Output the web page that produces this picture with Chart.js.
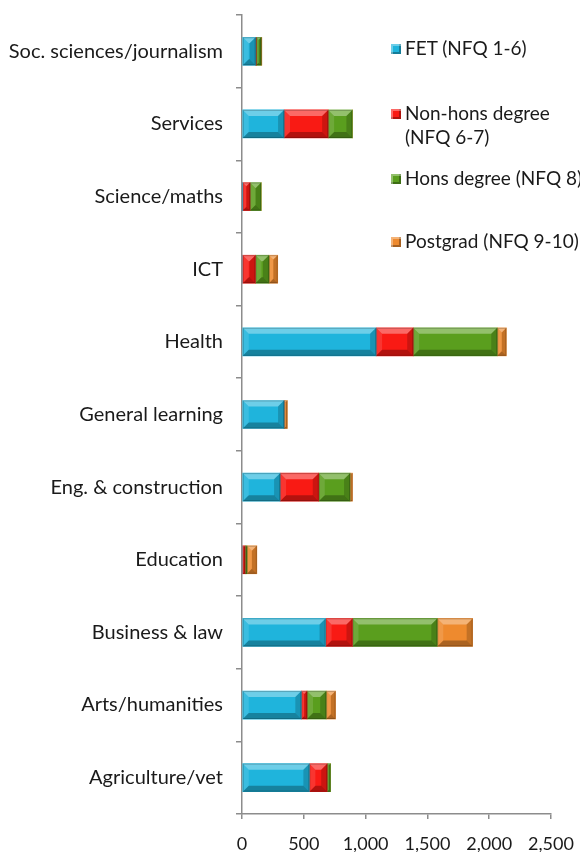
<!DOCTYPE html>
<html>
<head>
<meta charset="utf-8">
<script src="https://cdn.jsdelivr.net/npm/chart.js@4.4.1/dist/chart.umd.min.js"></script>
<style>
  html, body { margin: 0; padding: 0; background: #fff; }
  #wrap { position: relative; width: 580px; height: 852px; overflow: hidden; }
  #legend { position: absolute; left: 391px; top: 0; font-family: Lato, "Open Sans", sans-serif; font-size: 19px; color: #1a1a1a; }
  .item { position: absolute; left: 0; white-space: nowrap; display: flex; align-items: flex-start; line-height: 24px; }
  .box { width: 10px; height: 10px; margin: 8px 4px 0 0; flex: none; box-shadow: inset 2px 2px 0 rgba(255,255,255,0.35), inset -2px -2px 0 rgba(0,0,0,0.3); }
</style>
</head>
<body>
<div id="wrap">
  <canvas id="chart" width="580" height="852"></canvas>
  <div id="legend"></div>
</div>
<script>
const categories = ["Soc. sciences/journalism", "Services", "Science/maths", "ICT", "Health",
  "General learning", "Eng. & construction", "Education", "Business & law", "Arts/humanities", "Agriculture/vet"];

const fet      = [110, 340,   5,   0, 1085, 340, 308,   0, 676, 480, 545];
const nonHons  = [  5, 357,  60, 109,  300,   0, 313,  25, 218,  46, 144];
const hons     = [ 40, 196,  90, 109,  680,   0, 253,  15, 686, 155,  27];
const postgrad = [  5,   0,   0,  71,   74,  27,  20,  80, 286,  76,   0];

const seriesNames = ["FET (NFQ 1-6)", "Non-hons degree (NFQ 6-7)", "Hons degree (NFQ 8)", "Postgrad (NFQ 9-10)"];
const legendLines = [["FET (NFQ 1-6)"], ["Non-hons degree", "(NFQ 6-7)"], ["Hons degree (NFQ 8)"], ["Postgrad (NFQ 9-10)"]];
const colors = ["#1fb4dc", "#f91a14", "#5a9e1e", "#ee8a2e"];
const xTicks = [0, 500, 1000, 1500, 2000, 2500];

const fontFamily = "Lato, 'Open Sans', sans-serif";

// bevel look on each bar segment
const bevelPlugin = {
  id: 'bevel',
  afterDatasetsDraw(chart) {
    const ctx = chart.ctx;
    chart.getSortedVisibleDatasetMetas().forEach(meta => {
      meta.data.forEach(bar => {
        const p = bar.getProps(['x', 'y', 'base', 'height'], true);
        const l = Math.min(p.x, p.base), r = Math.max(p.x, p.base);
        const t = p.y - p.height / 2, b = p.y + p.height / 2;
        const w = r - l;
        if (w < 0.5) return;
        const d = Math.min(6, w / 2, p.height / 2);
        ctx.save();
        const poly = (pts, fill) => {
          ctx.beginPath();
          ctx.moveTo(pts[0][0], pts[0][1]);
          for (let i = 1; i < pts.length; i++) ctx.lineTo(pts[i][0], pts[i][1]);
          ctx.closePath();
          ctx.fillStyle = fill;
          ctx.fill();
        };
        poly([[l, t], [r, t], [r - d, t + d], [l + d, t + d]], 'rgba(255,255,255,0.35)');
        poly([[l, t], [l + d, t + d], [l + d, b - d], [l, b]], 'rgba(255,255,255,0.12)');
        poly([[l, b], [l + d, b - d], [r - d, b - d], [r, b]], 'rgba(0,0,0,0.28)');
        poly([[r, t], [r, b], [r - d, b - d], [r - d, t + d]], 'rgba(0,0,0,0.18)');
        ctx.strokeStyle = 'rgba(0,0,0,0.2)';
        ctx.lineWidth = 1;
        ctx.strokeRect(l + 0.5, t + 0.5, w - 1, p.height - 1);
        ctx.restore();
      });
    });
  }
};

const datasets = [fet, nonHons, hons, postgrad].map((vals, i) => ({
  label: seriesNames[i],
  data: vals,
  backgroundColor: colors[i],
  borderWidth: 0,
  barThickness: 28
}));

new Chart(document.getElementById('chart'), {
  type: 'bar',
  data: { labels: categories, datasets: datasets },
  plugins: [bevelPlugin],
  options: {
    indexAxis: 'y',
    responsive: false,
    animation: false,
    layout: { padding: { top: 15, right: 29, bottom: 0, left: 0 } },
    plugins: { legend: { display: false }, tooltip: { enabled: false } },
    scales: {
      x: {
        stacked: true,
        min: 0,
        max: 2500,
        afterBuildTicks: axis => { axis.ticks = xTicks.map(v => ({ value: v })); },
        afterFit: axis => { axis.height = 38; axis.paddingRight = 0; },
        border: { color: '#8c8c8c', width: 1.5 },
        grid: { drawOnChartArea: false, color: '#8c8c8c', tickLength: 5, lineWidth: 1.5 },
        ticks: {
          color: '#1a1a1a',
          padding: 14,
          font: { family: fontFamily, size: 18 },
          callback: v => v.toLocaleString('en-US')
        }
      },
      y: {
        stacked: true,
        afterFit: axis => { axis.width = 242; axis.paddingTop = 0; axis.paddingBottom = 0; },
        border: { color: '#8c8c8c', width: 1.5 },
        grid: { offset: true, drawOnChartArea: false, color: '#8c8c8c', tickLength: 6, lineWidth: 1.5 },
        ticks: {
          color: '#1a1a1a',
          padding: 13,
          font: { family: fontFamily, size: 20 }
        }
      }
    }
  }
});

// legend drawn as html next to the plot
const legendTops = [36, 101, 166, 229];
const legend = document.getElementById('legend');
legendLines.forEach((lines, i) => {
  const item = document.createElement('div');
  item.className = 'item';
  item.style.top = legendTops[i] + 'px';
  item.innerHTML = `<div class="box" style="background:${colors[i]}"></div><div>${lines.join('<br>')}</div>`;
  legend.appendChild(item);
});
</script>
</body>
</html>
